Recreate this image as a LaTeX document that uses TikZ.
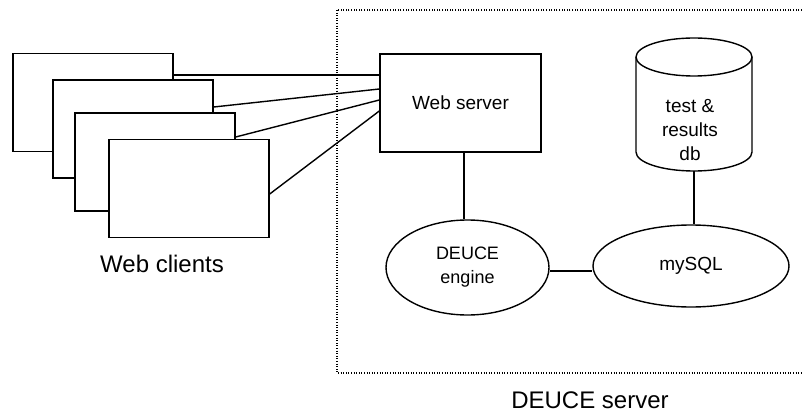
\documentclass[tikz,border=0pt]{standalone}
\usepackage{fontspec}
\setmainfont{Liberation Sans}
\usetikzlibrary{shapes.geometric}
\begin{document}
\begin{tikzpicture}[x=1pt,y=-1pt,
  line/.style={line width=1.4pt},
  win/.style={draw,line width=1.4pt,fill=white,minimum width=160pt,minimum height=98pt,inner sep=0pt},
  oval/.style={draw,ellipse,line width=1.4pt,inner sep=0pt,align=center,font=\fontsize{18}{24}\selectfont},
  big/.style={font=\fontsize{24}{28}\selectfont},
  small/.style={font=\fontsize{19}{24}\selectfont,align=center}]
\clip (0,0) rectangle (802,414);
\fill[white] (0,0) rectangle (802,414);
% DEUCE server dotted frame
\draw[line width=1.2pt,dash pattern=on 1pt off 1.6pt] (337,10) rectangle (820,373);
% web clients
\node[win] (c1) at (93,102.5) {};
\node[win] (c2) at (133,129) {};
\node[win] (c3) at (155,162) {};
\node[win] (c4) at (189,188.5) {};
\node[big] (wc) at (162,264) {Web clients};
% web server
\node[draw,line width=1.4pt,minimum width=161pt,minimum height=98pt,inner sep=0pt,small] (ws) at (460.5,103) {Web server};
% engine, mysql
\node[oval,minimum width=163pt,minimum height=95pt] (eng) at (467.5,267.5) {DEUCE\\engine};
\node[oval,minimum width=196pt,minimum height=82pt,font=\fontsize{19}{24}\selectfont] (sql) at (691,266) {mySQL};
% database cylinder
\node[minimum width=116pt,minimum height=133pt,inner sep=0pt] (db) at (694,104.5) {};
\draw[line] (636,57) -- (636,152) arc[start angle=180,end angle=0,x radius=58,y radius=19] -- (752,57);
\draw[line] (694,57) ellipse[x radius=58,y radius=19];
\node[small] (dbt) at (690,130) {test \&\\results\\db};
% labels
\node[big] (ds) at (590,400) {DEUCE server};
% connectors
\coordinate (wsb) at ([xshift=3.5pt]ws.south);
\draw[line] (c1.east |- 0,75) -- (ws.west |- 0,75);
\draw[line] (c2.east |- 0,107) -- (ws.west |- 0,89);
\draw[line] (c3.east |- 0,137) -- (ws.west |- 0,100);
\draw[line] (c4.east |- 0,194) -- (ws.west |- 0,111);
\draw[line] (wsb) -- (wsb |- eng.north);
\draw[line] (eng.east |- 0,271) -- (sql.west |- 0,271);
\draw[line] (db.south) -- (db.south |- sql.north);
\end{tikzpicture}
\end{document}
